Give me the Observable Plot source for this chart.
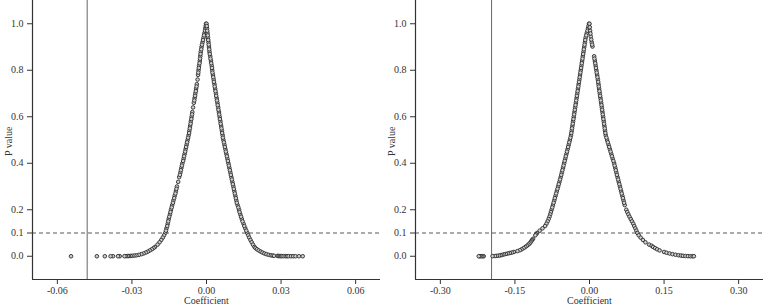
<!DOCTYPE html>
<html><head><meta charset="utf-8">
<script src="https://cdn.jsdelivr.net/npm/d3@7"></script>
<script src="https://cdn.jsdelivr.net/npm/@observablehq/plot@0.6"></script>
<style>
body{margin:0;background:#fff;}
#wrap{display:flex;width:763px;height:307px;}
#wrap svg{display:block;}
</style></head><body><div id="wrap"></div>
<script>
// Panel A (left): [coefficient, p value]
const panelA_neg = [[-0.0002,1.00],[-0.0005,0.98],[-0.0008,0.96],[-0.0012,0.94],[-0.0016,0.92],[-0.0020,0.90],[-0.0023,0.88],[-0.0025,0.86],[-0.0027,0.84],[-0.0030,0.82],[-0.0032,0.80],[-0.0034,0.78],[-0.0036,0.76],[-0.0039,0.74],[-0.0042,0.72],[-0.0045,0.70],[-0.0048,0.68],[-0.0051,0.66],[-0.0054,0.64],[-0.0057,0.62],[-0.0060,0.60],[-0.0063,0.58],[-0.0066,0.56],[-0.0069,0.54],[-0.0072,0.52],[-0.0076,0.50],[-0.0080,0.48],[-0.0084,0.46],[-0.0088,0.44],[-0.0092,0.42],[-0.0097,0.40],[-0.0101,0.38],[-0.0105,0.36],[-0.0110,0.34],[-0.0114,0.32],[-0.0119,0.30],[-0.0123,0.28],[-0.0128,0.26],[-0.0133,0.24],[-0.0138,0.22],[-0.0143,0.20],[-0.0147,0.18],[-0.0152,0.16],[-0.0156,0.14],[-0.0161,0.12],[-0.0166,0.10],[-0.0171,0.09],[-0.0176,0.08],[-0.0182,0.07],[-0.0189,0.06],[-0.0197,0.05],[-0.0207,0.04],[-0.0213,0.035],[-0.0220,0.03],[-0.0228,0.025],[-0.0236,0.02],[-0.0244,0.016],[-0.0253,0.012],[-0.0262,0.009],[-0.0272,0.006],[-0.0282,0.004],[-0.0290,0.003],[-0.0298,0.002],[-0.0305,0.0015],[-0.0312,0.001],[-0.0317,0.0008],[-0.0324,0.0005],[-0.0330,0.0003],[-0.0349,0.0002],[-0.0356,0.0001],[-0.0376,0.0001],[-0.0386,0],[-0.0409,0],[-0.0441,0],[-0.0545,0],
  [-0.0003,0.99],[-0.0006,0.97],[-0.0010,0.95],[-0.0014,0.93],[-0.0018,0.91],[-0.0021,0.89],[-0.0024,0.87],[-0.0026,0.85],[-0.0028,0.83],[-0.0031,0.81],[-0.0033,0.79],[-0.0040,0.73],[-0.0043,0.71],[-0.0046,0.69],[-0.0049,0.67],[-0.0058,0.61],[-0.0061,0.59],[-0.0064,0.57],[-0.0067,0.55],[-0.0070,0.53],[-0.0074,0.51],[-0.0078,0.49],[-0.0082,0.47],[-0.0086,0.45],[-0.0090,0.43],[-0.0094,0.41],[-0.0099,0.39],[-0.0103,0.37],[-0.0107,0.35],[-0.0121,0.29],[-0.0125,0.27],[-0.0130,0.25],[-0.0135,0.23],[-0.0140,0.21],[-0.0145,0.19],[-0.0150,0.17],[-0.0154,0.15],[-0.0158,0.13],[-0.0163,0.11]];
const panelA_pos = [[0.0000,1.00],[0.0002,0.98],[0.0004,0.96],[0.0006,0.94],[0.0008,0.92],[0.0010,0.90],[0.0012,0.88],[0.0015,0.86],[0.0018,0.84],[0.0021,0.82],[0.0023,0.80],[0.0026,0.78],[0.0029,0.76],[0.0032,0.74],[0.0035,0.72],[0.0038,0.70],[0.0041,0.68],[0.0044,0.66],[0.0047,0.64],[0.0050,0.62],[0.0053,0.60],[0.0056,0.58],[0.0059,0.56],[0.0062,0.54],[0.0065,0.52],[0.0068,0.50],[0.0072,0.48],[0.0076,0.46],[0.0080,0.44],[0.0084,0.42],[0.0088,0.40],[0.0092,0.38],[0.0096,0.36],[0.0100,0.34],[0.0104,0.32],[0.0108,0.30],[0.0112,0.28],[0.0116,0.26],[0.0120,0.24],[0.0125,0.22],[0.0131,0.20],[0.0136,0.18],[0.0142,0.16],[0.0149,0.14],[0.0156,0.12],[0.0164,0.10],[0.0168,0.09],[0.0172,0.08],[0.0177,0.07],[0.0182,0.06],[0.0187,0.05],[0.0193,0.04],[0.0197,0.035],[0.0203,0.03],[0.0210,0.025],[0.0218,0.02],[0.0225,0.016],[0.0233,0.012],[0.0241,0.009],[0.0250,0.006],[0.0259,0.004],[0.0266,0.003],[0.0272,0.002],[0.0286,0.0015],[0.0290,0.001],[0.0295,0.0008],[0.0299,0.0006],[0.0303,0.0005],[0.0310,0.0004],[0.0318,0.0003],[0.0324,0.0002],[0.0330,0.0002],[0.0340,0.0001],[0.0349,0.0001],[0.0358,0.0001],[0.0372,0],[0.0387,0],
  [0.0001,0.99],[0.0003,0.97],[0.0005,0.95],[0.0007,0.93],[0.0009,0.91],[0.0011,0.89],[0.0013,0.87],[0.0016,0.85],[0.0019,0.83],[0.0022,0.81],[0.0024,0.79],[0.0027,0.77],[0.0030,0.75],[0.0033,0.73],[0.0036,0.71],[0.0039,0.69],[0.0042,0.67],[0.0045,0.65],[0.0048,0.63],[0.0051,0.61],[0.0054,0.59],[0.0057,0.57],[0.0060,0.55],[0.0063,0.53],[0.0066,0.51],[0.0070,0.49],[0.0074,0.47],[0.0078,0.45],[0.0082,0.43],[0.0086,0.41],[0.0090,0.39],[0.0094,0.37],[0.0098,0.35],[0.0102,0.33],[0.0106,0.31],[0.0110,0.29],[0.0114,0.27],[0.0118,0.25],[0.0122,0.23],[0.0128,0.21],[0.0133,0.19],[0.0139,0.17],[0.0145,0.15],[0.0152,0.13],[0.0160,0.11]];
// Panel B (right): [coefficient, p value]
const panelB_neg = [[-0.0010,1.00],[-0.0030,0.98],[-0.0055,0.96],[-0.0078,0.94],[-0.0092,0.92],[-0.0106,0.90],[-0.0120,0.88],[-0.0134,0.86],[-0.0148,0.84],[-0.0162,0.82],[-0.0176,0.80],[-0.0190,0.78],[-0.0204,0.76],[-0.0218,0.74],[-0.0232,0.72],[-0.0246,0.70],[-0.0260,0.68],[-0.0274,0.66],[-0.0288,0.64],[-0.0302,0.62],[-0.0316,0.60],[-0.0330,0.58],[-0.0344,0.56],[-0.0358,0.54],[-0.0372,0.52],[-0.0395,0.50],[-0.0418,0.48],[-0.0441,0.46],[-0.0464,0.44],[-0.0487,0.42],[-0.0510,0.40],[-0.0533,0.38],[-0.0556,0.36],[-0.0579,0.34],[-0.0605,0.32],[-0.0631,0.30],[-0.0657,0.28],[-0.0683,0.26],[-0.0709,0.24],[-0.0735,0.22],[-0.0762,0.20],[-0.0776,0.19],[-0.0790,0.18],[-0.0805,0.17],[-0.0822,0.16],[-0.0842,0.15],[-0.0866,0.14],[-0.0893,0.13],[-0.0945,0.12],[-0.1003,0.11],[-0.1055,0.10],[-0.1075,0.095],[-0.1090,0.09],[-0.1135,0.075],[-0.1155,0.07],[-0.1170,0.065],[-0.1185,0.06],[-0.1205,0.055],[-0.1230,0.05],[-0.1258,0.045],[-0.1290,0.04],[-0.1325,0.035],[-0.1365,0.03],[-0.1400,0.026],[-0.1450,0.022],[-0.1520,0.0185],[-0.1560,0.016],[-0.1600,0.014],[-0.1640,0.012],[-0.1680,0.010],[-0.1720,0.008],[-0.1755,0.006],[-0.1786,0.0043],[-0.1820,0.003],[-0.1860,0.002],[-0.1900,0.001],[-0.1950,0.0005],[-0.2128,0],[-0.2154,0],[-0.2180,0],[-0.2210,0],[-0.2228,0],
  [-0.0020,0.99],[-0.0042,0.97],[-0.0066,0.95],[-0.0085,0.93],[-0.0099,0.91],[-0.0113,0.89],[-0.0127,0.87],[-0.0141,0.85],[-0.0155,0.83],[-0.0169,0.81],[-0.0183,0.79],[-0.0197,0.77],[-0.0211,0.75],[-0.0225,0.73],[-0.0239,0.71],[-0.0253,0.69],[-0.0267,0.67],[-0.0281,0.65],[-0.0295,0.63],[-0.0309,0.61],[-0.0323,0.59],[-0.0337,0.57],[-0.0351,0.55],[-0.0365,0.53],[-0.0384,0.51],[-0.0407,0.49],[-0.0430,0.47],[-0.0453,0.45],[-0.0476,0.43],[-0.0499,0.41],[-0.0522,0.39],[-0.0545,0.37],[-0.0568,0.35],[-0.0592,0.33],[-0.0618,0.31],[-0.0644,0.29],[-0.0670,0.27],[-0.0696,0.25],[-0.0722,0.23],[-0.0749,0.21]];
const panelB_pos = [[0.0000,1.00],[0.0012,0.97],[0.0026,0.945],[0.0045,0.92],[0.0060,0.902],[0.0093,0.86],[0.0108,0.84],[0.0123,0.82],[0.0138,0.80],[0.0153,0.78],[0.0168,0.76],[0.0181,0.74],[0.0194,0.72],[0.0207,0.70],[0.0221,0.68],[0.0235,0.66],[0.0248,0.64],[0.0261,0.62],[0.0274,0.60],[0.0287,0.58],[0.0300,0.56],[0.0313,0.54],[0.0326,0.52],[0.0354,0.50],[0.0382,0.48],[0.0410,0.46],[0.0438,0.44],[0.0466,0.42],[0.0495,0.40],[0.0518,0.38],[0.0541,0.36],[0.0564,0.34],[0.0588,0.32],[0.0612,0.30],[0.0636,0.28],[0.0660,0.26],[0.0684,0.24],[0.0708,0.22],[0.0740,0.20],[0.0760,0.19],[0.0782,0.18],[0.0805,0.17],[0.0830,0.16],[0.0855,0.15],[0.0880,0.14],[0.0900,0.13],[0.0922,0.12],[0.0943,0.11],[0.0963,0.10],[0.0990,0.09],[0.1030,0.08],[0.1075,0.07],[0.1125,0.06],[0.1200,0.05],[0.1250,0.045],[0.1280,0.04],[0.1320,0.035],[0.1360,0.03],[0.1410,0.025],[0.1500,0.0185],[0.1550,0.015],[0.1610,0.012],[0.1670,0.009],[0.1730,0.0065],[0.1790,0.0043],[0.1840,0.003],[0.1880,0.002],[0.1930,0.001],[0.1980,0.0005],[0.2030,0],[0.2073,0],[0.2100,0],
  [0.0006,0.985],[0.0019,0.958],[0.0035,0.932],[0.0053,0.91],[0.0100,0.85],[0.0115,0.83],[0.0130,0.81],[0.0145,0.79],[0.0160,0.77],[0.0175,0.75],[0.0187,0.73],[0.0200,0.71],[0.0214,0.69],[0.0228,0.67],[0.0241,0.65],[0.0254,0.63],[0.0267,0.61],[0.0280,0.59],[0.0293,0.57],[0.0306,0.55],[0.0319,0.53],[0.0340,0.51],[0.0368,0.49],[0.0396,0.47],[0.0424,0.45],[0.0452,0.43],[0.0480,0.41],[0.0506,0.39],[0.0529,0.37],[0.0552,0.35],[0.0576,0.33],[0.0600,0.31],[0.0624,0.29],[0.0648,0.27],[0.0672,0.25],[0.0696,0.23]];

const refLineA = -0.048;
const refLineB = -0.197;
const pThreshold = 0.1;
const xDomainA = [-0.07, 0.07];
const xDomainB = [-0.35, 0.35];
const xTicksA = [-0.06, -0.03, 0, 0.03, 0.06];
const xTicksB = [-0.30, -0.15, 0, 0.15, 0.30];
const yDomain = [-0.1, 1.1];
const yTicks = [0, 0.1, 0.2, 0.4, 0.6, 0.8, 1.0];
const xTitle = "Coefficient";
const yTitle = "P value";

const fmt2 = d => d3.format(".2f")(d).replace("\u2212", "-");
const fmt1 = d => d3.format(".1f")(d).replace("\u2212", "-");
const FONT = "'Liberation Serif', 'Times New Roman', serif";

function panel(points, vline, xDomain, xTicks, width, marginRight) {
  return Plot.plot({
    width, height: 307,
    marginLeft: 32, marginRight, marginTop: 0, marginBottom: 28,
    style: {fontFamily: FONT, fontSize: "10px", color: "#333", background: "#fff", overflow: "visible"},
    x: {domain: xDomain, label: null},
    y: {domain: yDomain, label: null},
    marks: [
      Plot.ruleY([pThreshold], {stroke: "#444", strokeWidth: 0.9, strokeDasharray: "4,3"}),
      Plot.ruleX([vline], {stroke: "#555", strokeWidth: 0.9}),
      Plot.dot(points, {x: d => d[0], y: d => d[1], r: 1.8, stroke: "#2a2a2a", strokeWidth: 0.9, fill: "#cfcfcf"}),
      Plot.ruleY([yDomain[0]], {stroke: "#333", strokeWidth: 1.2}),
      Plot.ruleX([xDomain[0]], {stroke: "#333", strokeWidth: 1.2}),
      Plot.axisX({ticks: xTicks, tickFormat: fmt2, tickSize: 5, tickPadding: 2, label: null, stroke: "#333", fill: "#333"}),
      Plot.axisY({ticks: yTicks, tickFormat: fmt1, tickSize: 5, tickPadding: 4, label: null, stroke: "#333", fill: "#333"}),
      Plot.text([xTitle], {frameAnchor: "bottom", dy: 24, fontSize: 10, fill: "#333"}),
      Plot.text([yTitle], {frameAnchor: "left", dx: -24, dy: 16, rotate: -90, fontSize: 10, fill: "#333"})
    ]
  });
}

const wrap = document.getElementById("wrap");
wrap.appendChild(panel(panelA_neg.concat(panelA_pos), refLineA, xDomainA, xTicksA, 383, 3));
wrap.appendChild(panel(panelB_neg.concat(panelB_pos), refLineB, xDomainB, xTicksB, 380, 0));
</script></body></html>
